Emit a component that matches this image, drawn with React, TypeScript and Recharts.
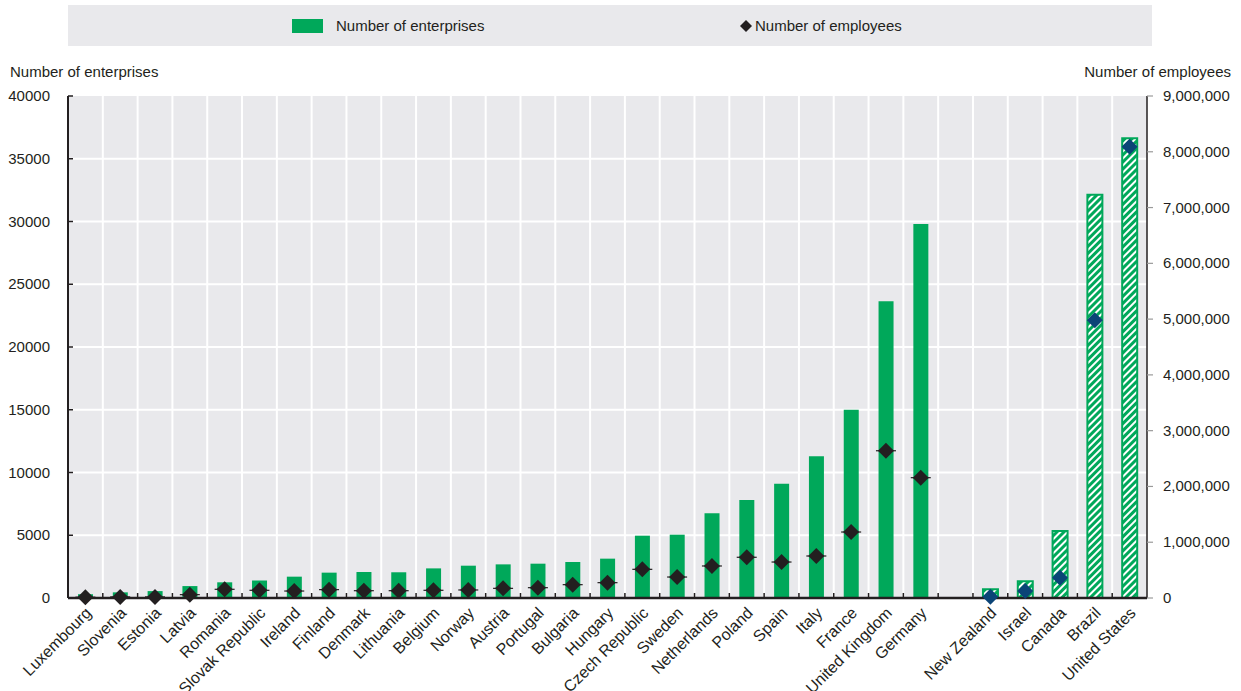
import React from "react";
import { Bar, CartesianGrid, Cell, ComposedChart, Line, XAxis, YAxis } from "recharts";

const countries = [
  "Luxembourg", "Slovenia", "Estonia", "Latvia", "Romania", "Slovak Republic", "Ireland",
  "Finland", "Denmark", "Lithuania", "Belgium", "Norway", "Austria", "Portugal", "Bulgaria",
  "Hungary", "Czech Republic", "Sweden", "Netherlands", "Poland", "Spain", "Italy", "France",
  "United Kingdom", "Germany", "", "New Zealand", "Israel", "Canada", "Brazil", "United States",
];

const enterprises = [
  300, 450, 550, 950, 1250, 1400, 1700, 2020, 2070, 2050, 2360, 2575, 2680, 2735, 2870,
  3135, 4965, 5045, 6750, 7800, 9100, 11300, 15000, 23650, 29800, null, 700, 1330, 5340,
  32135, 36630,
];

const employees = [
  15000, 20000, 20000, 60000, 156000, 138000, 125000, 150000, 131000, 131000, 138000,
  144000, 173000, 185000, 239000, 275000, 514000, 376000, 574000, 730000, 645000, 753000,
  1183000, 2640000, 2157000, null, 23000, 125000, 364000, 4980000, 8090000,
];

// non-European countries are drawn hatched, with blue markers
const outsideEurope = ["New Zealand", "Israel", "Canada", "Brazil", "United States"];

const leftTicks = [0, 5000, 10000, 15000, 20000, 25000, 30000, 35000, 40000];
const rightTicks = [0, 1000000, 2000000, 3000000, 4000000, 5000000, 6000000, 7000000, 8000000, 9000000];

const GREEN = "#00a85a";
const DARK = "#231f20";
const BLUE = "#0b4477";
const BG = "#e9e9ec";
const FONT = "'Liberation Sans', Arial, sans-serif";

const W = 1241;
const H = 691;
const M = { top: 96, right: 10, bottom: 5, left: 8 };
const LEFT_W = 60;
const RIGHT_W = 84;
const LEFT_MAX = 40000;
const PLOT_W = W - M.left - M.right - LEFT_W - RIGHT_W;
const BAND = PLOT_W / countries.length;

const data = countries.map((name, i) => ({
  name,
  enterprises: enterprises[i],
  employees: employees[i],
  outside: outsideEurope.includes(name),
}));

function XTick({ x, y, payload, index }: any) {
  const tx = x + 7;
  const ty = y + 16;
  return (
    <g>
      {index > 0 && <line x1={x - BAND / 2} x2={x - BAND / 2} y1={y} y2={y - 5} stroke={DARK} strokeWidth={1.5} />}
      <text
        x={tx}
        y={ty}
        textAnchor="end"
        transform={`rotate(-45, ${tx}, ${ty})`}
        fontSize={16}
        fontFamily={FONT}
        fill={DARK}
      >
        {payload.value}
      </text>
    </g>
  );
}

function LeftTick({ x, y, payload }: any) {
  return (
    <g>
      <line x1={x} x2={x + 5} y1={y} y2={y} stroke={DARK} strokeWidth={1.5} />
      <text x={x - 18} y={y + 5} textAnchor="end" fontSize={15} fontFamily={FONT} fill={DARK}>
        {payload.value}
      </text>
    </g>
  );
}

function RightTick({ x, y, payload }: any) {
  return (
    <g>
      <line x1={x} x2={x + 6} y1={y} y2={y} stroke="#9a9a9a" strokeWidth={1.2} />
      <text x={x + 16} y={y + 5} textAnchor="start" fontSize={15} fontFamily={FONT} fill={DARK}>
        {Number(payload.value).toLocaleString("en-US")}
      </text>
    </g>
  );
}

function Diamond({ cx, cy, payload }: any) {
  if (payload == null || payload.employees == null || cx == null || cy == null) return null;
  const c = payload.outside ? BLUE : DARK;
  const r = 8;
  return (
    <g>
      {!payload.outside && <line x1={cx - 10} x2={cx + 10} y1={cy} y2={cy} stroke={c} strokeWidth={1.2} />}
      <path d={`M${cx},${cy - r} L${cx + r},${cy} L${cx},${cy + r} L${cx - r},${cy} Z`} fill={c} />
    </g>
  );
}

export default function App() {
  return (
    <div style={{ position: "fixed", left: 0, top: 0, width: W, height: H, background: "#fff", fontFamily: FONT, color: DARK }}>
      <div style={{ position: "absolute", left: 68, top: 5, width: 1084, height: 41, background: BG }} />
      <div style={{ position: "absolute", left: 292, top: 19, width: 31, height: 14, background: GREEN }} />
      <div style={{ position: "absolute", left: 336, top: 17, fontSize: 15 }}>Number of enterprises</div>
      <svg style={{ position: "absolute", left: 740, top: 20 }} width={12} height={12}>
        <path d="M6,0 L12,6 L6,12 L0,6 Z" fill={DARK} />
      </svg>
      <div style={{ position: "absolute", left: 755, top: 17, fontSize: 15 }}>Number of employees</div>
      <div style={{ position: "absolute", left: 10, top: 63, fontSize: 15 }}>Number of enterprises</div>
      <div style={{ position: "absolute", right: 10, top: 63, fontSize: 15 }}>Number of employees</div>

      <div style={{ position: "absolute", left: 0, top: 0 }}>
        <ComposedChart width={W} height={H} data={data} margin={M} barCategoryGap={0}>
          <defs>
            <pattern id="hatch" patternUnits="userSpaceOnUse" width={5} height={5} patternTransform="rotate(45)">
              <rect width={5} height={5} fill={GREEN} />
              <rect width={2} height={5} fill="#ffffff" />
            </pattern>
          </defs>
          <CartesianGrid
            stroke="#ffffff"
            strokeWidth={2}
            fill={BG}
            fillOpacity={1}
            yAxisId="left"
            verticalCoordinatesGenerator={({ offset }: any) =>
              countries.slice(1).map((_, i) => offset.left + ((i + 1) * offset.width) / countries.length)
            }
            horizontalCoordinatesGenerator={({ offset }: any) =>
              leftTicks.slice(1, -1).map((t) => offset.top + offset.height * (1 - t / LEFT_MAX))
            }
          />
          <XAxis
            dataKey="name"
            interval={0}
            height={88}
            tickSize={0}
            tickMargin={0}
            tickLine={false}
            axisLine={{ stroke: DARK, strokeWidth: 2.5 }}
            tick={<XTick />}
          />
          <YAxis
            yAxisId="left"
            orientation="left"
            width={LEFT_W}
            domain={[0, LEFT_MAX]}
            ticks={leftTicks}
            tickSize={0}
            tickMargin={0}
            tickLine={false}
            axisLine={{ stroke: DARK, strokeWidth: 2 }}
            tick={<LeftTick />}
          />
          <YAxis
            yAxisId="right"
            orientation="right"
            width={RIGHT_W}
            domain={[0, 9000000]}
            ticks={rightTicks}
            tickSize={0}
            tickMargin={0}
            tickLine={false}
            axisLine={{ stroke: DARK, strokeWidth: 1.5 }}
            tick={<RightTick />}
          />
          <Bar yAxisId="left" dataKey="enterprises" barSize={15} isAnimationActive={false}>
            {data.map((d, i) => (
              <Cell
                key={i}
                fill={d.outside ? "url(#hatch)" : GREEN}
                stroke={d.outside ? GREEN : "none"}
                strokeWidth={d.outside ? 2 : 0}
              />
            ))}
          </Bar>
          <Line
            yAxisId="right"
            dataKey="employees"
            stroke="none"
            strokeWidth={0}
            dot={<Diamond />}
            activeDot={false}
            connectNulls={false}
            isAnimationActive={false}
          />
        </ComposedChart>
      </div>
    </div>
  );
}
